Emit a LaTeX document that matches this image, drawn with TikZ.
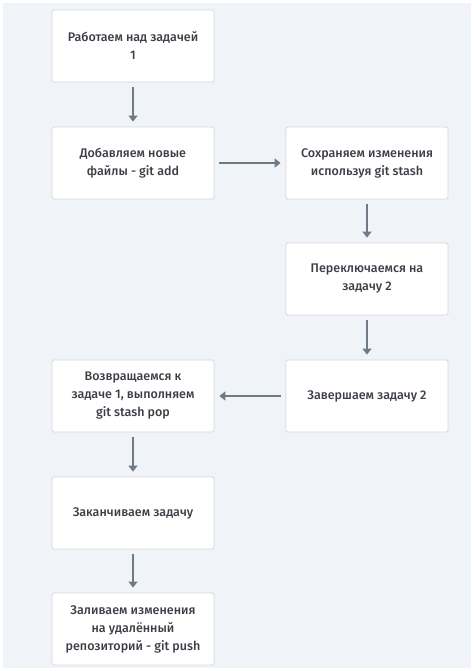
\documentclass[tikz,border=0pt]{standalone}
\usepackage{fontspec}
\setmainfont{Fira Sans}[UprightFont=*-Medium]
\usetikzlibrary{arrows.meta}
\definecolor{bgc}{HTML}{F0F3F7}
\definecolor{edgec}{HTML}{D3D8DE}
\definecolor{arrc}{HTML}{6F7A86}
\definecolor{txtc}{HTML}{3A3F46}
\begin{document}
\begin{tikzpicture}[x=1pt,y=-1pt,
  box/.style={draw=edgec,line width=0.8pt,fill=white,rounded corners=1.5pt,minimum width=162pt,minimum height=72pt,align=center,text=txtc,font=\fontsize{12.5}{18}\selectfont,inner sep=0pt},
  arr/.style={draw=arrc,line width=2.6pt,-{Triangle[length=6pt,width=9pt]},shorten <=5pt,shorten >=5pt}]
\useasboundingbox (0,0) rectangle (474,671);
\fill[white] (0,0) rectangle (474,671);
\fill[bgc] (3,3) rectangle (471,668);
\node[box] (a) at (133,46) {Работаем над задачей\\1};
\node[box] (b) at (133,163) {Добавляем новые\\файлы - git add};
\node[box] (c) at (367,163) {Сохраняем изменения\\используя git stash};
\node[box] (d) at (367,279) {Переключаемся на\\задачу 2};
\node[box] (e) at (367,396) {Завершаем задачу 2};
\node[box] (f) at (133,396) {Возвращаемся к\\задаче 1, выполняем\\git stash pop};
\node[box] (g) at (133,513) {Заканчиваем задачу};
\node[box] (h) at (133,629) {Заливаем изменения\\на удалённый\\репозиторий - git push};
\draw[arr] (a) -- (b);
\draw[arr] (b) -- (c);
\draw[arr] (c) -- (d);
\draw[arr] (d) -- (e);
\draw[arr] (e) -- (f);
\draw[arr] (f) -- (g);
\draw[arr] (g) -- (h);
\end{tikzpicture}
\end{document}
